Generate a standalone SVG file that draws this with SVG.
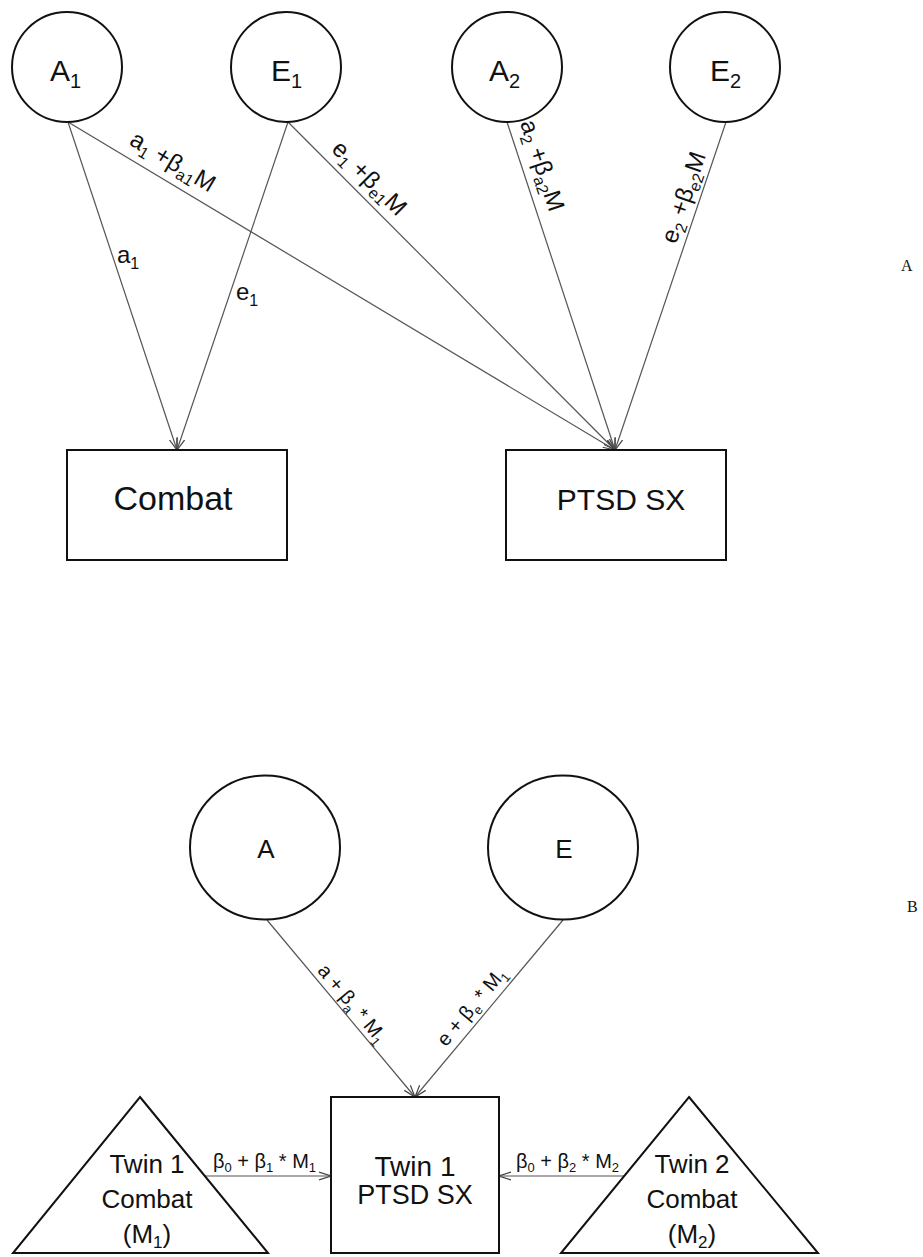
<svg xmlns="http://www.w3.org/2000/svg" width="923" height="1257" viewBox="0 0 923 1257">
<style>
.shape{fill:#fff;stroke:#111;stroke-width:2}
.edge{fill:none;stroke:#555;stroke-width:1.2}
.t{font-family:"Liberation Sans",Arial,sans-serif;fill:#111}
.lat{font-size:30px}
.lat .s{font-size:20px}
.el{font-size:24px}
.el .s{font-size:16px}
.bl{font-size:20px}
.bl .s{font-size:13px}
.big{font-size:31px;text-anchor:middle}
.mid{font-size:26px;text-anchor:middle}
.mid .s{font-size:17px}
.panel{font-family:"Liberation Serif","Times New Roman",serif;font-size:16px;fill:#111}
</style>
<defs>
<marker id="arr" viewBox="0 0 12 10" refX="12" refY="5" markerWidth="12" markerHeight="10" markerUnits="userSpaceOnUse" orient="auto">
<path d="M0,1 L12,5 L0,9" fill="none" stroke="#444" stroke-width="1.2"/>
</marker>
</defs>
<rect width="923" height="1257" fill="#fff"/>

<g id="connectors">
<line class="edge" x1="68" y1="122" x2="177" y2="450" marker-end="url(#arr)"/>
<line class="edge" x1="288" y1="122" x2="177" y2="450" marker-end="url(#arr)"/>
<line class="edge" x1="68" y1="122" x2="615" y2="450" marker-end="url(#arr)"/>
<line class="edge" x1="288" y1="122" x2="615" y2="450" marker-end="url(#arr)"/>
<line class="edge" x1="507" y1="122" x2="615" y2="450" marker-end="url(#arr)"/>
<line class="edge" x1="726" y1="122" x2="615" y2="450" marker-end="url(#arr)"/>
<line class="edge" x1="267" y1="920" x2="415" y2="1097" marker-end="url(#arr)"/>
<line class="edge" x1="563" y1="920" x2="415" y2="1097" marker-end="url(#arr)"/>
<line class="edge" x1="204" y1="1176" x2="331" y2="1176" marker-end="url(#arr)"/>
<line class="edge" x1="624" y1="1176" x2="499" y2="1176" marker-end="url(#arr)"/>

<text class="t el" x="117" y="263">a<tspan class="s" dy="6">1</tspan></text>
<text class="t el" x="236" y="300">e<tspan class="s" dy="6">1</tspan></text>
<text class="t el" transform="translate(128.2,144.1) rotate(30.95)">a<tspan class="s" dy="5">1</tspan><tspan dy="-5"> +β</tspan><tspan class="s" dy="5">a1</tspan><tspan dy="-5">M</tspan></text>
<text class="t el" transform="translate(330.4,150.3) rotate(45.09)">e<tspan class="s" dy="5">1</tspan><tspan dy="-5"> +β</tspan><tspan class="s" dy="5">e1</tspan><tspan dy="-5">M</tspan></text>
<text class="t el" transform="translate(520,123) rotate(71.77)">a<tspan class="s" dy="5">2</tspan><tspan dy="-5"> +β</tspan><tspan class="s" dy="5">a2</tspan><tspan dy="-5">M</tspan></text>
<text class="t el" transform="translate(675.9,244.7) rotate(-71.3)">e<tspan class="s" dy="5">2</tspan><tspan dy="-5"> +β</tspan><tspan class="s" dy="5">e2</tspan><tspan dy="-5">M</tspan></text>

<text class="t bl" transform="translate(316.7,971) rotate(50.1)">a + β<tspan class="s" dy="5">a</tspan><tspan dy="-5"> * M</tspan><tspan class="s" dy="5">1</tspan></text>
<text class="t bl" transform="translate(446.1,1047.4) rotate(-50.1)">e + β<tspan class="s" dy="5">e</tspan><tspan dy="-5"> * M</tspan><tspan class="s" dy="5">1</tspan></text>
<text class="t bl" x="213" y="1168">β<tspan class="s" dy="4">0</tspan><tspan dy="-4"> + β</tspan><tspan class="s" dy="4">1</tspan><tspan dy="-4"> * M</tspan><tspan class="s" dy="4">1</tspan></text>
<text class="t bl" x="516" y="1168">β<tspan class="s" dy="4">0</tspan><tspan dy="-4"> + β</tspan><tspan class="s" dy="4">2</tspan><tspan dy="-4"> * M</tspan><tspan class="s" dy="4">2</tspan></text>
</g>

<g id="node-A1">
<circle class="shape" cx="67" cy="67" r="55"/>
<text class="t lat" x="50" y="81">A<tspan class="s" dy="7">1</tspan></text>
</g>
<g id="node-E1">
<circle class="shape" cx="286" cy="67" r="55"/>
<text class="t lat" x="271" y="81">E<tspan class="s" dy="7">1</tspan></text>
</g>
<g id="node-A2">
<circle class="shape" cx="507" cy="67" r="55"/>
<text class="t lat" x="489" y="81">A<tspan class="s" dy="7">2</tspan></text>
</g>
<g id="node-E2">
<circle class="shape" cx="725" cy="67" r="55"/>
<text class="t lat" x="710" y="81">E<tspan class="s" dy="7">2</tspan></text>
</g>
<g id="node-combat">
<rect class="shape" x="67" y="450" width="220" height="110"/>
<text class="t big" x="173" y="510" style="font-size:34px">Combat</text>
</g>
<g id="node-ptsd">
<rect class="shape" x="506" y="450" width="220" height="110"/>
<text class="t big" x="621" y="510" style="font-size:30px">PTSD SX</text>
</g>

<g id="node-A">
<ellipse class="shape" cx="265" cy="847.5" rx="75" ry="72"/>
<text class="t mid" x="266" y="858">A</text>
</g>
<g id="node-E">
<ellipse class="shape" cx="563" cy="847.5" rx="75" ry="72"/>
<text class="t mid" x="564" y="858">E</text>
</g>
<g id="node-twin1-ptsd">
<rect class="shape" x="331" y="1097" width="168" height="156"/>
<text class="t mid" x="415" y="1176" style="font-size:28px">Twin 1</text>
<text class="t mid" x="415" y="1204" style="font-size:27px">PTSD SX</text>
</g>
<g id="node-twin1-combat">
<polygon class="shape" points="140,1097 268,1253 13,1253"/>
<text class="t mid" x="147" y="1173">Twin 1</text>
<text class="t mid" x="147" y="1208">Combat</text>
<text class="t mid" x="147" y="1243">(M<tspan class="s" dy="5">1</tspan><tspan dy="-5">)</tspan></text>
</g>
<g id="node-twin2-combat">
<polygon class="shape" points="689,1097 818,1253 561,1253"/>
<text class="t mid" x="692" y="1173">Twin 2</text>
<text class="t mid" x="692" y="1208">Combat</text>
<text class="t mid" x="692" y="1243">(M<tspan class="s" dy="5">2</tspan><tspan dy="-5">)</tspan></text>
</g>

<g id="panel-labels">
<text class="panel" x="901" y="271">A</text>
<text class="panel" x="907" y="912">B</text>
</g>
</svg>
